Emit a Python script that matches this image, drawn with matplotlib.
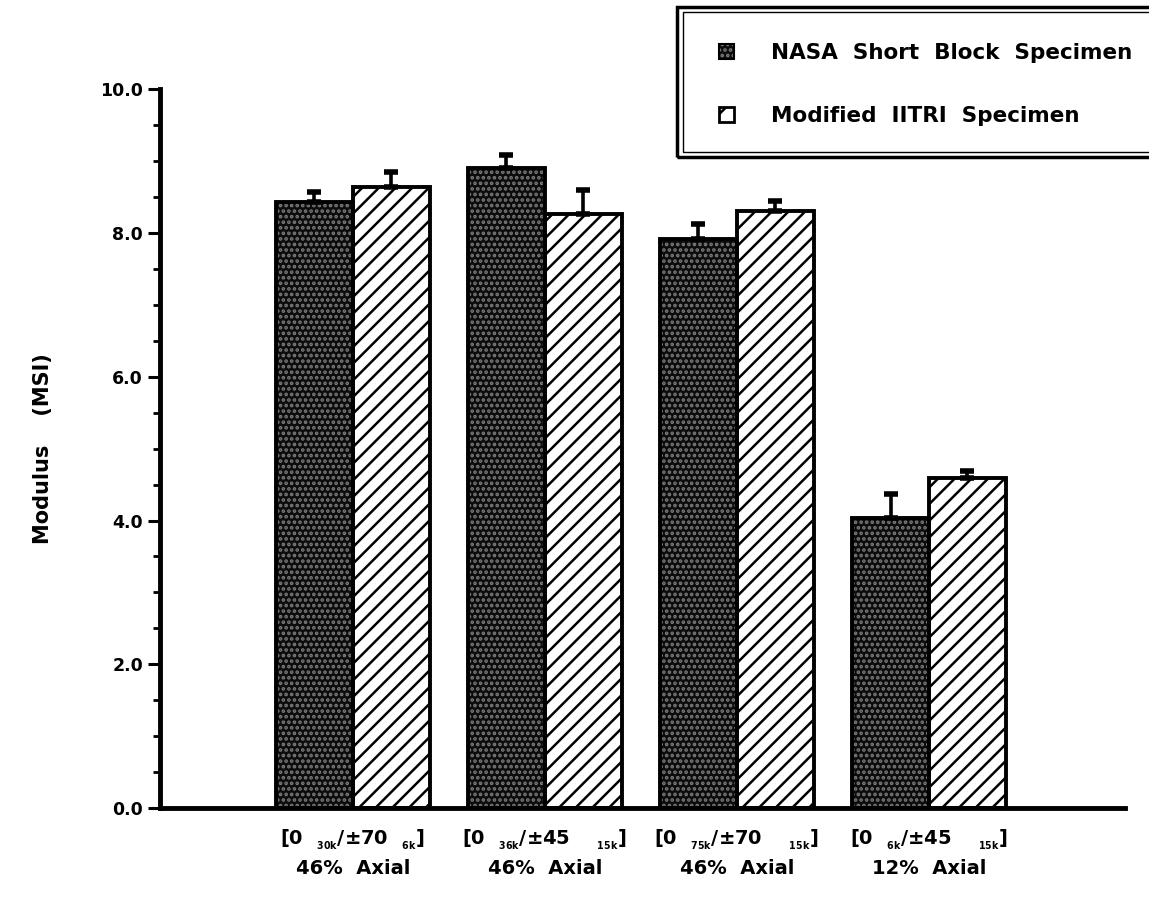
import numpy as np
import matplotlib
matplotlib.use('Agg')
import matplotlib.pyplot as plt
from matplotlib.patches import Patch, Rectangle

# values (Modulus, MSI)
layups = [r"$\mathbf{[0\ \ {}_{{}_{30k}}/{\pm}70\ \ {}_{{}_{6k}}]}$",
          r"$\mathbf{[0\ \ {}_{{}_{36k}}/{\pm}45\ \ \ \ {}_{{}_{15k}}]}$",
          r"$\mathbf{[0\ \ {}_{{}_{75k}}/{\pm}70\ \ \ \ {}_{{}_{15k}}]}$",
          r"$\mathbf{[0\ \ {}_{{}_{6k}}/{\pm}45\ \ \ \ {}_{{}_{15k}}]}$"]
axial = ["46%  Axial", "46%  Axial", "46%  Axial", "12%  Axial"]
nasa = [8.43, 8.90, 7.91, 4.04]
nasa_err = [0.14, 0.18, 0.22, 0.33]
iitri = [8.64, 8.27, 8.31, 4.59]
iitri_err = [0.21, 0.33, 0.14, 0.10]
series_names = ["NASA  Short  Block  Specimen", "Modified  IITRI  Specimen"]

plt.rcParams['font.family'] = 'DejaVu Sans'
plt.rcParams['font.weight'] = 'bold'
plt.rcParams['mathtext.fontset'] = 'dejavusans'
plt.rcParams['hatch.linewidth'] = 1.8

fig = plt.figure(figsize=(11.49, 9.10), dpi=100)
ax = fig.add_axes([0.139, 0.112, 0.840, 0.790])

x = np.arange(len(nasa))
w = 0.4

# stippled dark bars: fill + light dot hatch, then black outline
ax.bar(x - w/2, nasa, w, color='#0c0c0c', hatch='...', edgecolor='#7a7a7a', linewidth=0, zorder=2)
ax.bar(x - w/2, nasa, w, fill=False, edgecolor='black', linewidth=2.8, zorder=3)
# hatched white bars
ax.bar(x + w/2, iitri, w, color='white', hatch='//', edgecolor='black', linewidth=2.8, zorder=2)

ax.errorbar(x - w/2, nasa, yerr=[np.zeros(4), nasa_err], fmt='none', ecolor='black',
            elinewidth=2.6, capsize=5, capthick=4, zorder=4)
ax.errorbar(x + w/2, iitri, yerr=[np.zeros(4), iitri_err], fmt='none', ecolor='black',
            elinewidth=2.6, capsize=5, capthick=4, zorder=4)

ax.set_xlim(-1.005, 4.02)
ax.set_ylim(0, 10)

ax.spines['top'].set_visible(False)
ax.spines['right'].set_visible(False)
ax.spines['left'].set_linewidth(3.5)
ax.spines['bottom'].set_linewidth(3.5)

ax.set_yticks(np.arange(0, 10.1, 2))
ax.set_yticklabels(['%.1f' % v for v in np.arange(0, 10.1, 2)])
ax.set_yticks(np.arange(0, 10.1, 0.5), minor=True)
ax.tick_params(axis='y', which='major', length=9, width=2.2, labelsize=12.5, pad=3)
ax.tick_params(axis='y', which='minor', length=5, width=2.0)

ax.set_xticks(x)
ax.set_xticklabels([a + "\n" + b for a, b in zip(layups, axial)], fontsize=14, linespacing=1.45)
ax.tick_params(axis='x', length=0, pad=14)

ax.set_ylabel("Modulus    (MSI)", fontsize=15, fontweight='bold', labelpad=34)

# legend with double border running off the right edge
fig.patches.append(Rectangle((0.589, 0.8275), 0.45, 0.1645, transform=fig.transFigure,
                             fill=False, edgecolor='black', linewidth=2.5))
fig.patches.append(Rectangle((0.5945, 0.833), 0.45, 0.1535, transform=fig.transFigure,
                             fill=False, edgecolor='black', linewidth=1.0))
h1 = (Patch(facecolor='#0c0c0c', hatch='...', edgecolor='#7a7a7a', linewidth=0),
      Patch(fill=False, edgecolor='black', linewidth=1.5))
h2 = Patch(facecolor='white', hatch='/', edgecolor='black', linewidth=2.0)
fig.legend([h1, h2], series_names, loc='upper left', bbox_to_anchor=(0.626, 0.953),
           frameon=False, handlelength=0.7, handleheight=0.7,
           handletextpad=1.7, labelspacing=2.0, borderpad=0, borderaxespad=0,
           prop={'weight': 'bold', 'size': 15.5})

plt.savefig('out.png', dpi=100)
